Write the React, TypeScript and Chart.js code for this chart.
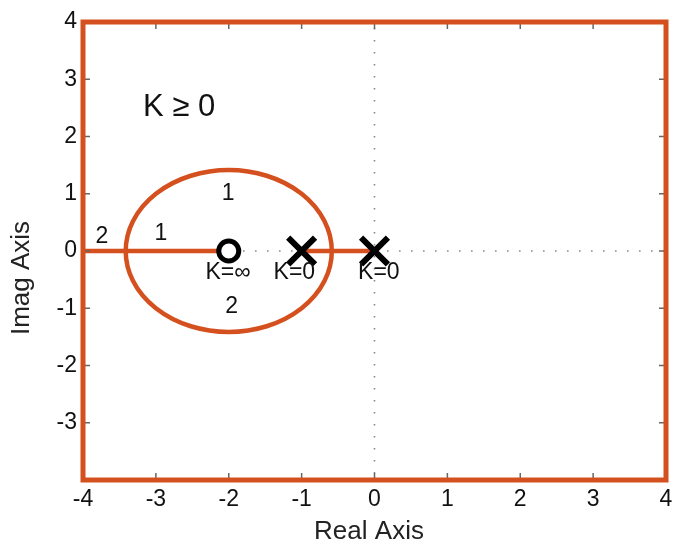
import React, { useEffect, useRef } from "react";
import { Chart, registerables } from "chart.js";

Chart.register(...registerables);

const ORANGE = "#d4511f";
const FONT = "'Liberation Sans', Arial, Helvetica, sans-serif";

// Axis ticks and labels
const axisTicks = [-4, -3, -2, -1, 0, 1, 2, 3, 4];
const xTickLabels = ["-4", "-3", "-2", "-1", "0", "1", "2", "3", "4"];
const yTickLabels = ["", "-3", "-2", "-1", "0", "1", "2", "3", "4"];

// Root locus branches on the real axis
const leftBranchRe = [-4, -2];
const leftBranchIm = [0, 0];
const rightBranchRe = [-1, 0];
const rightBranchIm = [0, 0];

// Poles (x) and zero (o)
const poleRe = [-1, 0];
const poleIm = [0, 0];
const zeroRe = [-2];
const zeroIm = [0];

// Complex branch: circle around the zero
const circleCenterRe = -2;
const circleCenterIm = 0;
const circleRadius = 1.414;

// Annotations
const labelTexts = ["1", "1", "2", "2", "K=∞", "K=0", "K=0"];
const labelRe = [-2.01, -2.93, -3.74, -1.96, -2.01, -1.1, 0.06];
const labelIm = [1.0, 0.3, 0.25, -0.98, -0.38, -0.38, -0.38];
const gainText = "K ≥ 0";
const gainRe = -2.68;
const gainIm = 2.5;

const xTitle = "Real Axis";
const yTitle = "Imag Axis";

const pts = (re: number[], im: number[]) => re.map((v, i) => ({ x: v, y: im[i] }));

const locusPlugin = {
  id: "locusDecor",
  beforeDatasetsDraw(chart: any) {
    const { ctx, chartArea: a, scales } = chart;
    const x = scales.x;
    const y = scales.y;
    ctx.save();
    // dotted zero lines
    ctx.strokeStyle = "#8a8a8a";
    ctx.lineWidth = 1.6;
    ctx.setLineDash([1.6, 10.4]);
    const x0 = x.getPixelForValue(0);
    const y0 = y.getPixelForValue(0);
    ctx.beginPath();
    ctx.moveTo(x0, a.top + 6);
    ctx.lineTo(x0, a.bottom);
    ctx.stroke();
    ctx.beginPath();
    ctx.moveTo(a.left + 4, y0);
    ctx.lineTo(a.right, y0);
    ctx.stroke();
    ctx.setLineDash([]);
    // circle branch
    const cx = x.getPixelForValue(circleCenterRe);
    const cy = y.getPixelForValue(circleCenterIm);
    const rx = Math.abs(x.getPixelForValue(circleCenterRe + circleRadius) - cx);
    const ry = Math.abs(y.getPixelForValue(circleCenterIm + circleRadius) - cy);
    ctx.strokeStyle = ORANGE;
    ctx.lineWidth = 4.5;
    ctx.beginPath();
    ctx.ellipse(cx, cy, rx, ry, 0, 0, Math.PI * 2);
    ctx.stroke();
    ctx.restore();
  },
  afterDatasetsDraw(chart: any) {
    const { ctx, chartArea: a, scales } = chart;
    const x = scales.x;
    const y = scales.y;
    ctx.save();
    // inner tick marks
    ctx.strokeStyle = "#666";
    ctx.lineWidth = 1.5;
    const inner = axisTicks.slice(1, -1);
    ctx.beginPath();
    inner.forEach((v) => {
      const px = x.getPixelForValue(v);
      ctx.moveTo(px, a.bottom);
      ctx.lineTo(px, a.bottom - 7);
      ctx.moveTo(px, a.top);
      ctx.lineTo(px, a.top + 7);
      const py = y.getPixelForValue(v);
      ctx.moveTo(a.left, py);
      ctx.lineTo(a.left + 7, py);
      ctx.moveTo(a.right, py);
      ctx.lineTo(a.right - 7, py);
    });
    ctx.stroke();
    // frame
    ctx.strokeStyle = ORANGE;
    ctx.lineWidth = 5;
    ctx.strokeRect(a.left, a.top, a.right - a.left, a.bottom - a.top);
    // annotations
    ctx.fillStyle = "#111";
    ctx.textAlign = "center";
    ctx.textBaseline = "middle";
    ctx.font = `23px ${FONT}`;
    labelTexts.forEach((t, i) => {
      ctx.fillText(t, x.getPixelForValue(labelRe[i]), y.getPixelForValue(labelIm[i]));
    });
    ctx.font = `31px ${FONT}`;
    ctx.fillText(gainText, x.getPixelForValue(gainRe), y.getPixelForValue(gainIm));
    // axis titles
    ctx.fillStyle = "#222";
    ctx.font = `26px ${FONT}`;
    ctx.fillText(xTitle, 369, 532);
    ctx.translate(22, 278);
    ctx.rotate(-Math.PI / 2);
    ctx.fillText(yTitle, 0, 0);
    ctx.restore();
  },
};

export default function App() {
  const ref = useRef<HTMLCanvasElement | null>(null);
  useEffect(() => {
    document.body.style.margin = "0";
    if (!ref.current) return;
    const chart = new Chart(ref.current, {
      type: "scatter",
      data: {
        datasets: [
          { label: "poles", data: pts(poleRe, poleIm), pointStyle: "crossRot", pointRadius: 19, borderWidth: 6, borderColor: "#000", backgroundColor: "#000", showLine: false, order: 0 },
          { label: "zero", data: pts(zeroRe, zeroIm), pointStyle: "circle", pointRadius: 10, borderWidth: 5, borderColor: "#000", backgroundColor: "#fff", showLine: false, order: 1 },
          { label: "left branch", data: pts(leftBranchRe, leftBranchIm), showLine: true, borderColor: ORANGE, borderWidth: 4.5, pointRadius: 0, order: 2 },
          { label: "right branch", data: pts(rightBranchRe, rightBranchIm), showLine: true, borderColor: ORANGE, borderWidth: 4.5, pointRadius: 0, order: 3 },
        ],
      },
      options: {
        animation: false,
        responsive: false,
        devicePixelRatio: 1,
        events: [],
        layout: { autoPadding: false, padding: { top: 22, right: 7, left: 0, bottom: 0 } },
        plugins: { legend: { display: false }, tooltip: { enabled: false } },
        scales: {
          x: {
            type: "linear", position: "bottom", min: -4, max: 4,
            afterBuildTicks: (s: any) => { s.ticks = axisTicks.map((v) => ({ value: v })); },
            afterFit: (s: any) => { s.height = 66; s.paddingLeft = 0; s.paddingRight = 0; },
            ticks: { callback: (v: any) => xTickLabels[axisTicks.indexOf(Number(v))], font: { size: 23, family: FONT }, color: "#111", padding: 6, maxRotation: 0, autoSkip: false },
            grid: { display: false, drawTicks: false },
            border: { display: false },
          },
          y: {
            type: "linear", position: "left", min: -4, max: 4,
            afterBuildTicks: (s: any) => { s.ticks = axisTicks.map((v) => ({ value: v })); },
            afterFit: (s: any) => { s.width = 83; s.paddingTop = 0; s.paddingBottom = 0; },
            ticks: { callback: (v: any) => yTickLabels[axisTicks.indexOf(Number(v))], font: { size: 23, family: FONT }, color: "#111", padding: 6, autoSkip: false },
            grid: { display: false, drawTicks: false },
            border: { display: false },
          },
        },
      },
      plugins: [locusPlugin],
    } as any);
    return () => chart.destroy();
  }, []);
  return <canvas ref={ref} width={673} height={546} style={{ display: "block" }} />;
}
